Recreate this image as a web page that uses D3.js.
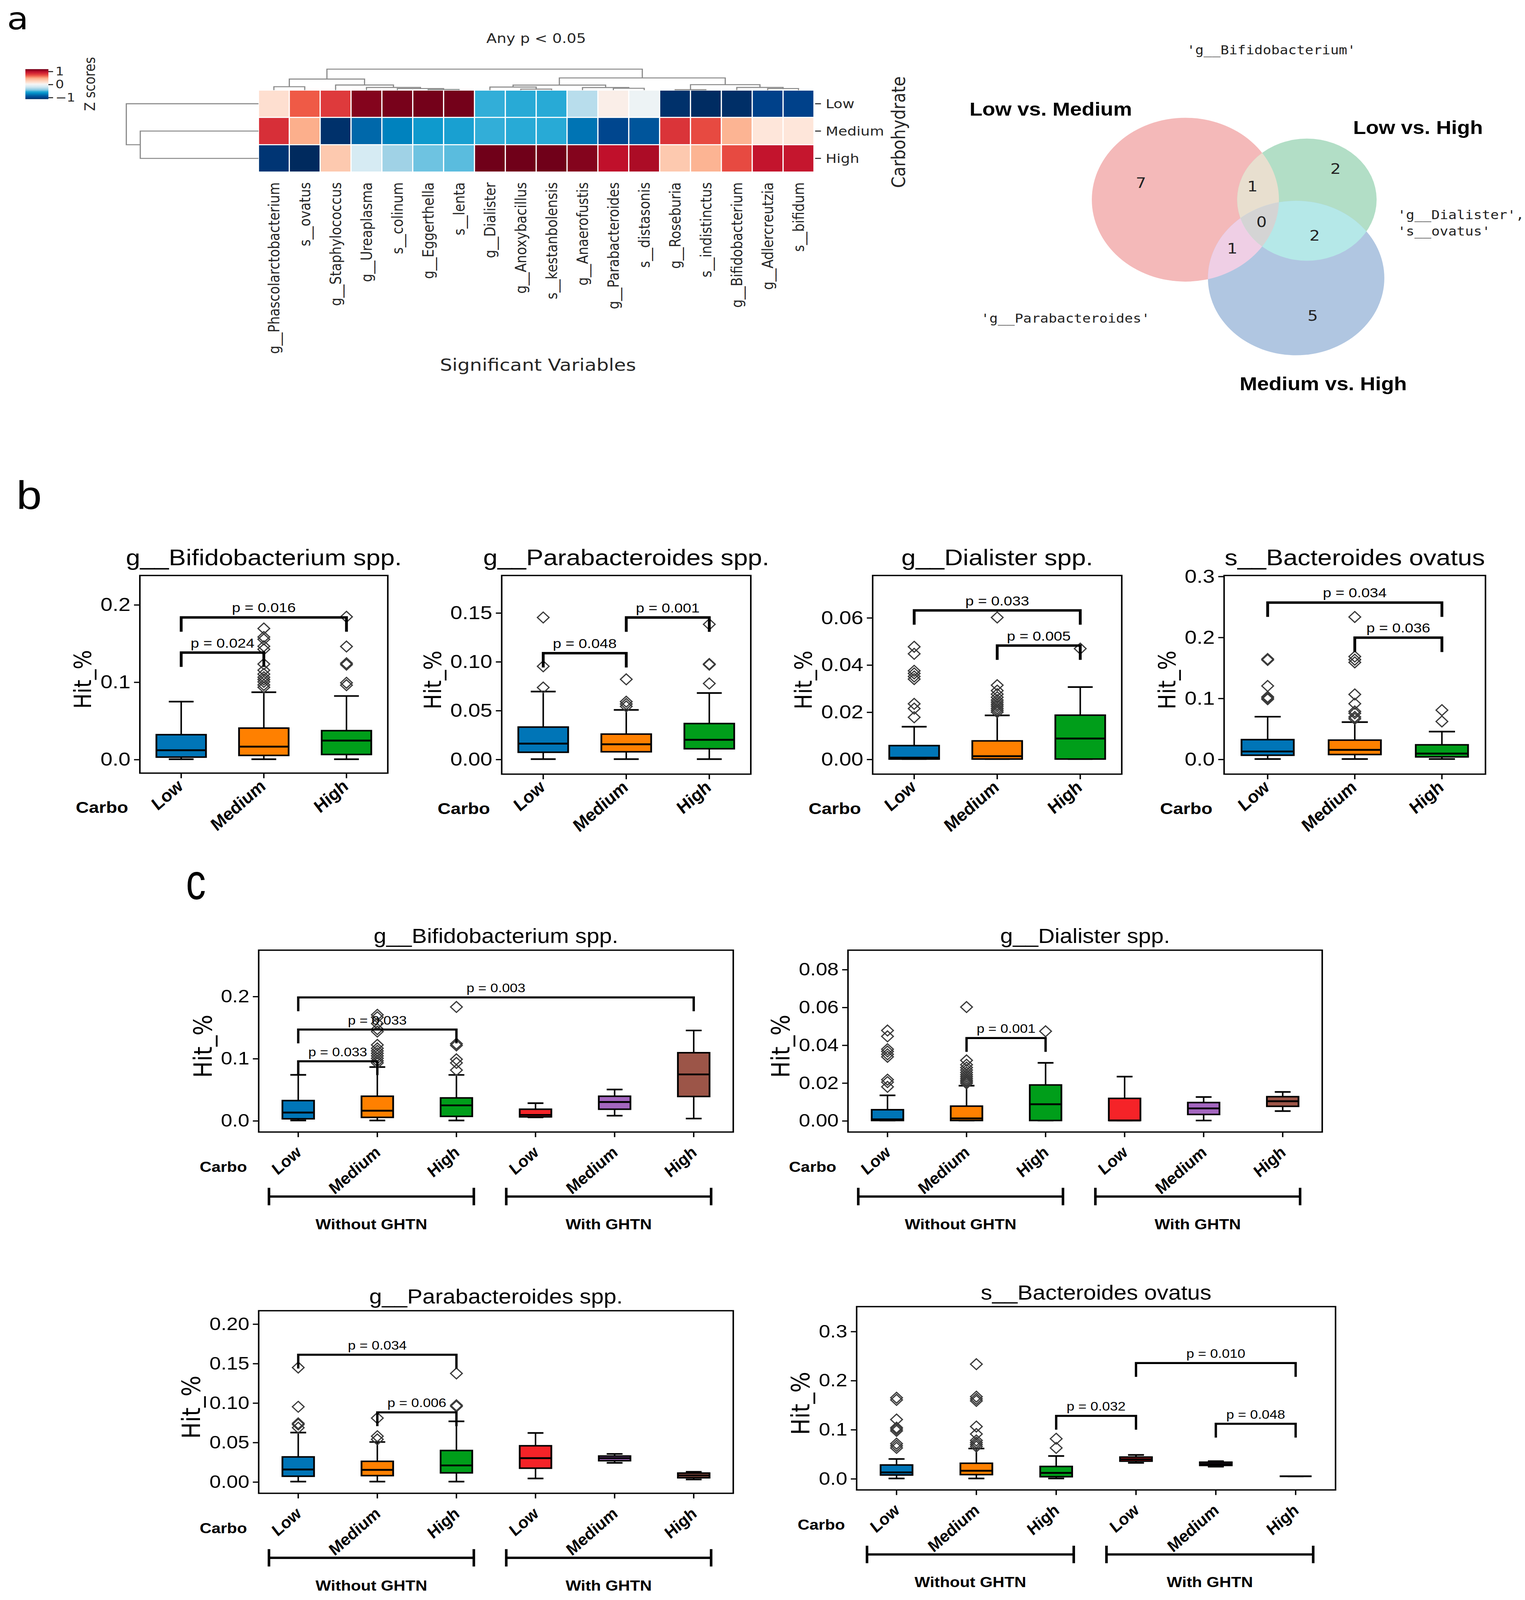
<!DOCTYPE html>
<html>
<head>
<meta charset="utf-8">
<script src="https://cdn.jsdelivr.net/npm/d3@7"></script>
<style>
  html, body { margin: 0; padding: 0; background: #fff; overflow: hidden; }
  svg { display: block; }
</style>
</head>
<body>
<script>
// ---------- panel a : clustered heatmap ----------
const heatTaxa = ["g__Phascolarctobacterium", "s__ovatus", "g__Staphylococcus", "g__Ureaplasma",
  "s__colinum", "g__Eggerthella", "s__lenta", "g__Dialister", "g__Anoxybacillus", "s__kestanbolensis",
  "g__Anaerofustis", "g__Parabacteroides", "s__distasonis", "g__Roseburia", "s__indistinctus",
  "g__Bifidobacterium", "g__Adlercreutzia", "s__bifidum"];
const carbo = ["Low", "Medium", "High"];
const zLow    = [0.15, 0.65, 0.75, 1.10, 1.13, 1.14, 1.14, -0.56, -0.57, -0.57, -0.30, 0.05, -0.05, -1.12, -1.14, -1.13, -1.05, -1.05];
const zMedium = [0.80, 0.45, -1.12, -0.85, -0.75, -0.65, -0.62, -0.56, -0.57, -0.57, -0.80, -1.02, -0.93, 0.78, 0.70, 0.42, 0.10, 0.10];
const zHigh   = [-1.10, -1.15, 0.30, -0.20, -0.38, -0.50, -0.52, 1.15, 1.15, 1.15, 1.10, 0.95, 1.00, 0.30, 0.42, 0.70, 0.93, 0.92];
// scipy style linkage: [childA, childB, height]
const colLinkage = [[0, 1, 3.3], [5, 6, 0.6], [4, 19, 1.5], [3, 20, 2.6], [2, 21, 5.0], [18, 22, 10.8],
  [8, 9, 1.0], [7, 24, 3.0], [11, 12, 1.8], [10, 26, 2.5], [25, 27, 4.9], [13, 14, 0.4],
  [16, 17, 1.5], [15, 30, 2.6], [29, 31, 5.3], [28, 32, 11.9], [23, 33, 20.5]];
const rowLinkage = [[1, 2, 2.2], [0, 3, 2.46]];
const zStops  = [-1.15, -1.05, -0.93, -0.8, -0.7, -0.57, -0.5, -0.38, -0.2, 0, 0.1, 0.25, 0.45, 0.65, 0.75, 0.95, 1.15];
const zColors = ["#002a5e", "#00418a", "#00559b", "#0074b4", "#0090c8", "#28aad6", "#6ec3e1", "#a0d2e6", "#d6ebf3",
  "#f5f5f5", "#fee6da", "#fdd2bb", "#fcaf8c", "#ef5a46", "#de3a3c", "#c0102b", "#700019"];

// ---------- panel a : venn ----------
const vennNames = ["Low vs. Medium", "Low vs. High", "Medium vs. High"];
const vennRegions = ["100", "010", "001", "110", "101", "011", "111"];
const vennCounts = [7, 2, 5, 1, 1, 2, 0];
const vennNotes = ["'g__Bifidobacterium'", "'g__Dialister',", "'s__ovatus'", "'g__Parabacteroides'"];

// ---------- panel b : [min, q1, median, q3, max, outliers] ----------
const bBifido = [
  [0, 0.0027, 0.0116, 0.0317, 0.0744, []],
  [0, 0.0049, 0.0162, 0.0402, 0.0866, [0.093, 0.096, 0.100, 0.103, 0.106, 0.110, 0.115, 0.123, 0.142, 0.146, 0.155, 0.158, 0.169]],
  [0, 0.0061, 0.0241, 0.0369, 0.0817, [0.0957, 0.0988, 0.1222, 0.124, 0.1457, 0.1841]]];
const bBifidoP = [[0, 1, 0.1378, "p = 0.024"], [0, 2, 0.1833, "p = 0.016"]];
const bParab = [
  [0, 0.0070, 0.0159, 0.0328, 0.0692, [0.0733, 0.095, 0.145]],
  [0, 0.0075, 0.0152, 0.0256, 0.0504, [0.054, 0.0564, 0.0588, 0.0817]],
  [0, 0.0106, 0.0198, 0.0364, 0.0677, [0.0774, 0.0967, 0.0974, 0.138]]];
const bParabP = [[0, 1, 0.1085, "p = 0.048"], [1, 2, 0.145, "p = 0.001"]];
const bDial = [
  [0, 0, 0.0006, 0.0057, 0.0137, [0.0177, 0.0214, 0.0234, 0.0339, 0.035, 0.0363, 0.0374, 0.0446, 0.0476]],
  [0, 0, 0.0012, 0.0077, 0.0185, [0.0199, 0.0207, 0.0215, 0.0224, 0.0232, 0.0241, 0.025, 0.0262, 0.0275, 0.029, 0.0313, 0.06]],
  [0, 0, 0.0087, 0.0186, 0.0305, [0.0468]]];
const bDialP = [[0, 2, 0.063, "p = 0.033"], [1, 2, 0.0481, "p = 0.005"]];
const bOvatus = [
  [0, 0.0062, 0.0124, 0.0318, 0.0694, [0.098, 0.100, 0.102, 0.1198, 0.1624, 0.164]],
  [0, 0.0074, 0.0151, 0.0310, 0.0605, [0.066, 0.069, 0.075, 0.078, 0.0907, 0.106, 0.1585, 0.163, 0.168, 0.233]],
  [0, 0.0035, 0.0089, 0.0233, 0.0450, [0.0616, 0.0802]]];
const bOvatusP = [[0, 2, 0.2566, "p = 0.034"], [1, 2, 0.199, "p = 0.036"]];

// ---------- panel c ----------
const carboGhtn = ["Low", "Medium", "High", "Low", "Medium", "High"];
const ghtnGroups = ["Without GHTN", "With GHTN"];
const cBifido = [
  [0, 0.0027, 0.0127, 0.0320, 0.0734, []],
  [0, 0.0050, 0.0158, 0.0390, 0.0860, [0.0926, 0.096, 0.100, 0.104, 0.108, 0.112, 0.116, 0.1216, 0.143, 0.147, 0.156, 0.166, 0.170]],
  [0, 0.0066, 0.0243, 0.0363, 0.0733, [0.081, 0.0926, 0.0984, 0.1208, 0.1235, 0.1826]],
  [0.0050, 0.0058, 0.0089, 0.0181, 0.0278, []],
  [0.0077, 0.0181, 0.0297, 0.0390, 0.0498, []],
  [0.0031, 0.0386, 0.0741, 0.1090, 0.1448, []]];
const cBifidoP = [[0, 1, 0.0953, "p = 0.033"], [0, 2, 0.1463, "p = 0.033"], [0, 5, 0.198, "p = 0.003"]];
const cDial = [
  [0, 0, 0.0006, 0.0057, 0.0133, [0.0178, 0.0203, 0.0216, 0.0337, 0.035, 0.0365, 0.0377, 0.0445, 0.0476]],
  [0, 0, 0.0011, 0.0076, 0.0184, [0.0197, 0.0205, 0.0213, 0.0222, 0.0232, 0.0242, 0.0254, 0.0267, 0.028, 0.0295, 0.0318, 0.06]],
  [0, 0, 0.0086, 0.0188, 0.0305, [0.0472]],
  [0, 0, 0, 0.0117, 0.0232, []],
  [0, 0.0032, 0.0064, 0.0095, 0.0124, []],
  [0.0050, 0.0075, 0.0102, 0.0126, 0.0151, []]];
const cDialP = [[1, 2, 0.0436, "p = 0.001"]];
const cParab = [
  [0, 0.0068, 0.0154, 0.0313, 0.0621, [0.0683, 0.0724, 0.0738, 0.0948, 0.1445]],
  [0, 0.0076, 0.0149, 0.0257, 0.0502, [0.0535, 0.0575, 0.0805]],
  [0, 0.0111, 0.0205, 0.0394, 0.0764, [0.0953, 0.0967, 0.137]],
  [0.0040, 0.0170, 0.0297, 0.0454, 0.0616, []],
  [0.0238, 0.0265, 0.0297, 0.0324, 0.0351, []],
  [0.0027, 0.0049, 0.0078, 0.0108, 0.0124, []]];
const cParabP = [[0, 2, 0.1607, "p = 0.034"], [1, 2, 0.0878, "p = 0.006"]];
const cOvatus = [
  [0, 0.0070, 0.0122, 0.0274, 0.0396, [0.0622, 0.0665, 0.0709, 0.097, 0.1005, 0.1035, 0.12, 0.16, 0.1644]],
  [0, 0.0078, 0.0157, 0.0309, 0.0609, [0.065, 0.069, 0.073, 0.0774, 0.0905, 0.1057, 0.158, 0.162, 0.1666, 0.2327]],
  [0, 0.0035, 0.0113, 0.0244, 0.0457, [0.0622, 0.0809]],
  [0.0318, 0.0352, 0.0392, 0.0435, 0.0479, []],
  [0.0239, 0.0265, 0.0296, 0.0331, 0.0352, []],
  [0.0044, 0.0044, 0.0044, 0.0044, 0.0044, []]];
const cOvatusP = [[2, 3, 0.1275, "p = 0.032"], [3, 5, 0.235, "p = 0.010"], [4, 5, 0.1114, "p = 0.048"]];

const boxColors = ["#0075b7", "#ff8000", "#009e1a", "#f52328", "#a466bf", "#9c5548"];

// ---------- canvas ----------
// the layout is drawn in reference units and stretched onto whatever window we get
const W = 1304, H = 1562.5;
const vw = window.innerWidth || 3904, vh = window.innerHeight || 4678;
const svg = d3.select("body").append("svg")
  .attr("width", vw).attr("height", vh)
  .attr("viewBox", `0 0 ${W} ${H}`)
  .attr("preserveAspectRatio", "none")
  .attr("font-family", "Liberation Sans, Arial, sans-serif");
svg.append("rect").attr("width", W).attr("height", H).attr("fill", "#fff");
const defs = svg.append("defs");

svg.append("text").attr("x", 6).attr("y", 28.5).attr("font-size", 30).attr("font-family", "DejaVu Sans").text("a");
svg.append("text").attr("x", 14).attr("y", 497).attr("font-size", 39).text("b");
svg.append("text").attr("transform", "translate(159,878) scale(1,1.45)").attr("font-size", 34).text("c");

// ---------- heatmap ----------
const zColor = d3.scaleLinear().domain(zStops).range(zColors).clamp(true);
const hx = d3.scaleBand().domain(d3.range(heatTaxa.length)).range([221, 696]);
const hy = d3.scaleBand().domain(carbo).range([88, 168]);
const heat = svg.append("g").attr("font-family", "DejaVu Sans").attr("fill", "#262626");

[zLow, zMedium, zHigh].forEach((row, r) => {
  heat.selectAll(null).data(row).join("rect")
    .attr("x", (d, i) => hx(i)).attr("y", hy(carbo[r]))
    .attr("width", hx.bandwidth()).attr("height", hy.bandwidth())
    .attr("fill", d => zColor(d))
    .attr("stroke", "#fff").attr("stroke-width", 1);
});

// turn a linkage into U-shaped links
function dendroLinks(linkage, leafPos) {
  const pos = leafPos.slice(), hgt = leafPos.map(() => 0), links = [];
  linkage.forEach(([a, b, h]) => {
    links.push({ a: pos[a], ha: hgt[a], b: pos[b], hb: hgt[b], h });
    pos.push((pos[a] + pos[b]) / 2);
    hgt.push(h);
  });
  return links;
}
const colH = d3.scaleLinear().domain([0, d3.max(colLinkage, d => d[2])]).range([88, 67.5]);
const colLinks = dendroLinks(colLinkage, heatTaxa.map((d, i) => hx(i) + hx.bandwidth() / 2));
heat.selectAll(".cden").data(colLinks).join("path")
  .attr("d", l => `M${l.a},${colH(l.ha)}V${colH(l.h)}H${l.b}V${colH(l.hb)}`)
  .attr("fill", "none").attr("stroke", "#8a8a8a").attr("stroke-width", 1);

const rowH = d3.scaleLinear().domain([0, d3.max(rowLinkage, d => d[2])]).range([221, 108]);
const rowLinks = dendroLinks(rowLinkage, carbo.map(c => hy(c) + hy.bandwidth() / 2));
heat.selectAll(".rden").data(rowLinks).join("path")
  .attr("d", l => `M${rowH(l.ha)},${l.a}H${rowH(l.h)}V${l.b}H${rowH(l.hb)}`)
  .attr("fill", "none").attr("stroke", "#8a8a8a").attr("stroke-width", 1);

carbo.forEach(c => {
  const yc = hy(c) + hy.bandwidth() / 2;
  heat.append("line").attr("x1", 697).attr("x2", 702).attr("y1", yc).attr("y2", yc).attr("stroke", "#262626");
  heat.append("text").attr("x", 706).attr("y", yc).attr("dy", "0.35em").attr("font-size", 12.5).text(c);
});
heat.selectAll(".clab").data(heatTaxa).join("text")
  .attr("transform", (d, i) => `translate(${hx(i) + hx.bandwidth() / 2},178) rotate(-90)`)
  .attr("dy", "0.35em").attr("text-anchor", "end").attr("font-size", 12.8)
  .text(d => d);
heat.append("text").attr("x", 458.5).attr("y", 42).attr("text-anchor", "middle").attr("font-size", 13).text("Any p < 0.05");
heat.append("text").attr("x", 460).attr("y", 362).attr("text-anchor", "middle").attr("font-size", 16.5).text("Significant Variables");
heat.append("text").attr("transform", "translate(774,129) rotate(-90)").attr("text-anchor", "middle")
  .attr("font-size", 15.9).text("Carbohydrate");

// colour bar
const grad = defs.append("linearGradient").attr("id", "zgrad")
  .attr("x1", 0).attr("x2", 0).attr("y1", 1).attr("y2", 0);
d3.range(0, 1.0001, 0.05).forEach(t =>
  grad.append("stop").attr("offset", t).attr("stop-color", zColor(-1.15 + 2.3 * t)));
const cb = d3.scaleLinear().domain([-1.15, 1.15]).range([96.8, 67.5]);
svg.append("rect").attr("x", 21.7).attr("y", 67.5).attr("width", 19.7).attr("height", 29.3).attr("fill", "url(#zgrad)");
const cbAxis = svg.append("g").attr("transform", "translate(41.4,0)")
  .call(d3.axisRight(cb).tickValues([-1, 0, 1]).tickFormat(d3.format("d")).tickSize(4).tickPadding(2));
cbAxis.select(".domain").remove();
cbAxis.attr("font-family", "DejaVu Sans").attr("font-size", 11.5);
cbAxis.selectAll("line").attr("stroke", "#262626");
cbAxis.selectAll("text").attr("fill", "#262626");
svg.append("text").attr("transform", "translate(81,82) rotate(-90)").attr("text-anchor", "middle")
  .attr("font-family", "DejaVu Sans").attr("font-size", 12.5).attr("fill", "#262626").text("Z scores");

// ---------- venn ----------
const vennCenters = [[1013.6, 195], [1117.5, 195], [1108.3, 271.5]];
const vennCountPos = [[975.6, 178.7], [1142, 165], [1122.5, 308.2], [1071, 182], [1053.7, 242.6], [1124.2, 230], [1078.7, 216.8]];
const vennFill = { "100": "#f4b9b9", "010": "#b2dec6", "001": "#b0c6e1", "110": "#e8dfcf",
  "101": "#efcfe5", "011": "#b5e8e8", "111": "#d4d4d4" };
const setSize = [0, 1, 2].map(k => d3.sum(vennRegions, (r, j) => r[k] === "1" ? vennCounts[j] : 0));
const vr = d3.scaleSqrt().domain([0, d3.max(setSize)]).range([0, 80]);
[0, 1, 2].forEach(k => defs.append("clipPath").attr("id", `vclip${k}`).append("circle")
  .attr("cx", vennCenters[k][0]).attr("cy", vennCenters[k][1]).attr("r", vr(setSize[k])));
const venn = svg.append("g");
const circ = (sel, k, key) => sel.append("circle")
  .attr("cx", vennCenters[k][0]).attr("cy", vennCenters[k][1]).attr("r", vr(setSize[k]))
  .attr("fill", vennFill[key]);
circ(venn, 0, "100");
circ(venn, 1, "010");
circ(venn, 2, "001");
circ(venn.append("g").attr("clip-path", "url(#vclip0)"), 1, "110");
circ(venn.append("g").attr("clip-path", "url(#vclip0)"), 2, "101");
circ(venn.append("g").attr("clip-path", "url(#vclip1)"), 2, "011");
circ(venn.append("g").attr("clip-path", "url(#vclip0)").append("g").attr("clip-path", "url(#vclip1)"), 2, "111");
venn.selectAll(".cnt").data(vennCounts).join("text")
  .attr("x", (d, i) => vennCountPos[i][0]).attr("y", (d, i) => vennCountPos[i][1])
  .attr("dy", "0.35em").attr("text-anchor", "middle")
  .attr("font-family", "DejaVu Sans").attr("font-size", 14).attr("fill", "#222")
  .text(d => d);
const vennLabelPos = [[829, 113], [1157, 131], [1060, 381]];
venn.selectAll(".vname").data(vennNames).join("text")
  .attr("x", (d, i) => vennLabelPos[i][0]).attr("y", (d, i) => vennLabelPos[i][1])
  .attr("font-weight", "bold").attr("font-size", 18).text(d => d);
const notePos = [[1087, 53, "middle"], [1195, 214, "start"], [1195, 230, "start"], [911, 315, "middle"]];
venn.selectAll(".note").data(vennNotes).join("text")
  .attr("x", (d, i) => notePos[i][0]).attr("y", (d, i) => notePos[i][1])
  .attr("text-anchor", (d, i) => notePos[i][2])
  .attr("font-family", "DejaVu Sans Mono").attr("font-size", 12).attr("fill", "#222")
  .text(d => d);

// ---------- box plots ----------
const diamond = {
  draw(ctx, size) {
    const r = Math.sqrt(size) / 2;
    ctx.moveTo(0, -r * 1.06); ctx.lineTo(r, 0); ctx.lineTo(0, r * 1.06); ctx.lineTo(-r, 0); ctx.closePath();
  }
};
const outlierPath = d3.symbol().type(diamond).size(100)();

function boxPanel(p, st) {
  const g = svg.append("g");
  const x = d3.scaleBand().domain(d3.range(p.cats.length)).range([p.x, p.x + p.w]);
  const y = d3.scaleLinear().domain(p.dom).range([p.y + p.h, p.y]);
  const cx = i => x(i) + x.bandwidth() / 2;
  const bw = x.bandwidth() * st.boxFrac;
  const bottom = p.y + p.h;

  // y axis
  const ya = g.append("g").attr("transform", `translate(${p.x},0)`)
    .call(d3.axisLeft(y).tickValues(p.ticks).tickFormat(d3.format(p.fmt)).tickSize(5).tickPadding(3));
  ya.select(".domain").remove();
  ya.attr("font-family", "Liberation Sans, Arial, sans-serif").attr("font-size", st.tick);
  ya.selectAll("line").attr("stroke", "#000").attr("stroke-width", 1.2);
  ya.selectAll("text").attr("fill", "#000");

  // x axis
  const xa = g.append("g").attr("transform", `translate(0,${bottom})`)
    .call(d3.axisBottom(x).tickFormat(i => p.cats[i]).tickSize(5));
  xa.select(".domain").remove();
  xa.attr("font-family", "Liberation Sans, Arial, sans-serif").attr("font-size", st.lab);
  xa.selectAll("line").attr("stroke", "#000").attr("stroke-width", 1.2);
  xa.selectAll("text").attr("fill", "#000").attr("y", 0).attr("dy", 0)
    .attr("text-anchor", "end").attr("font-weight", "bold").attr("font-style", "italic")
    .attr("transform", `translate(${st.lx},${st.ly}) rotate(-45)`);

  // frame
  g.append("rect").attr("x", p.x).attr("y", p.y).attr("width", p.w).attr("height", p.h)
    .attr("fill", "none").attr("stroke", "#000").attr("stroke-width", 1.3);

  // boxes
  const box = g.selectAll(".box").data(p.stats).join("g");
  box.append("line").attr("x1", (d, i) => cx(i)).attr("x2", (d, i) => cx(i))
    .attr("y1", d => y(d[4])).attr("y2", d => y(d[3])).attr("stroke", "#000").attr("stroke-width", 1.3);
  box.append("line").attr("x1", (d, i) => cx(i)).attr("x2", (d, i) => cx(i))
    .attr("y1", d => y(d[1])).attr("y2", d => y(d[0])).attr("stroke", "#000").attr("stroke-width", 1.3);
  [0, 4].forEach(k => box.append("line")
    .attr("x1", (d, i) => cx(i) - bw / 4).attr("x2", (d, i) => cx(i) + bw / 4)
    .attr("y1", d => y(d[k])).attr("y2", d => y(d[k])).attr("stroke", "#000").attr("stroke-width", 1.6));
  box.append("rect").attr("x", (d, i) => cx(i) - bw / 2).attr("width", bw)
    .attr("y", d => y(d[3])).attr("height", d => y(d[1]) - y(d[3]))
    .attr("fill", (d, i) => boxColors[i]).attr("stroke", "#000").attr("stroke-width", 1.5);
  box.append("line").attr("x1", (d, i) => cx(i) - bw / 2).attr("x2", (d, i) => cx(i) + bw / 2)
    .attr("y1", d => y(d[2])).attr("y2", d => y(d[2])).attr("stroke", "#000").attr("stroke-width", 1.8);
  box.each(function (d, i) {
    d3.select(this).selectAll("path").data(d[5]).join("path")
      .attr("d", outlierPath)
      .attr("transform", o => `translate(${cx(i)},${y(o)})`)
      .attr("fill", "none").attr("stroke", "#3a3a3a").attr("stroke-width", 1.1);
  });

  // significance brackets
  const br = g.selectAll(".br").data(p.p).join("g");
  br.append("path")
    .attr("d", d => `M${cx(d[0])},${y(d[2]) + st.leg}V${y(d[2])}H${cx(d[1])}V${y(d[2]) + st.leg}`)
    .attr("fill", "none").attr("stroke", "#000").attr("stroke-width", st.brW);
  br.append("text").attr("x", d => (cx(d[0]) + cx(d[1])) / 2).attr("y", d => y(d[2]) - 5)
    .attr("text-anchor", "middle").attr("font-size", st.pv).text(d => d[3]);

  // labels
  g.append("text").attr("x", p.x + p.w / 2).attr("y", p.y - st.tGap)
    .attr("text-anchor", "middle").attr("font-size", st.title).text(p.title);
  const bb = ya.node().getBBox();
  g.append("text").attr("transform", `translate(${p.x + bb.x - 8},${p.y + p.h / 2 + 5}) rotate(-90)`)
    .attr("text-anchor", "middle").attr("font-family", "DejaVu Sans").attr("font-size", st.ylab).text("Hit_%");
  g.append("text").attr("x", p.x - 10).attr("y", bottom + 39).attr("text-anchor", "end")
    .attr("font-weight", "bold").attr("font-size", st.carbo).text("Carbo");

  // Without / With GHTN group bars
  if (p.groups) {
    const step = x.step(), ly = bottom + 63;
    p.groups.forEach((name, k) => {
      const x1 = cx(3 * k) - 0.37 * step, x2 = cx(3 * k + 2) + 0.22 * step;
      g.append("path").attr("d", `M${x1},${ly - 8.5}V${ly + 8.5}M${x1},${ly}H${x2}M${x2},${ly - 8.5}V${ly + 8.5}`)
        .attr("fill", "none").attr("stroke", "#000").attr("stroke-width", 2.2);
      g.append("text").attr("x", (x1 + x2) / 2).attr("y", ly + 32).attr("text-anchor", "middle")
        .attr("font-weight", "bold").attr("font-size", 14).text(name);
    });
  }
}

const bStyle = { boxFrac: 0.6, tick: 18.5, title: 22, lab: 16, ylab: 20, pv: 13, carbo: 15.5, lx: 3, ly: 14, leg: 14, brW: 2.4, tGap: 10 };
const cStyle = { boxFrac: 0.4, tick: 17.5, title: 19.5, lab: 15, ylab: 21.5, pv: 12, carbo: 14, lx: 4, ly: 21, leg: 13.5, brW: 2, tGap: 7 };

[
  { stats: bBifido, p: bBifidoP, cats: carbo, title: "g__Bifidobacterium spp.", x: 119.6, y: 562, w: 212, h: 193, dom: [-0.018, 0.2375], ticks: [0, 0.1, 0.2], fmt: ".1f" },
  { stats: bParab, p: bParabP, cats: carbo, title: "g__Parabacteroides spp.", x: 429, y: 562, w: 213, h: 194, dom: [-0.0154, 0.188], ticks: [0, 0.05, 0.1, 0.15], fmt: ".2f" },
  { stats: bDial, p: bDialP, cats: carbo, title: "g__Dialister spp.", x: 746.2, y: 562, w: 213, h: 194, dom: [-0.0064, 0.0778], ticks: [0, 0.02, 0.04, 0.06], fmt: ".2f" },
  { stats: bOvatus, p: bOvatusP, cats: carbo, title: "s__Bacteroides ovatus", x: 1046.7, y: 562, w: 223.5, h: 194, dom: [-0.0248, 0.301], ticks: [0, 0.1, 0.2, 0.3], fmt: ".1f" }
].forEach(p => boxPanel(p, bStyle));

[
  { stats: cBifido, p: cBifidoP, cats: carboGhtn, groups: ghtnGroups, title: "g__Bifidobacterium spp.", x: 221.2, y: 927.9, w: 405.8, h: 177.6, dom: [-0.0186, 0.274], ticks: [0, 0.1, 0.2], fmt: ".1f" },
  { stats: cDial, p: cDialP, cats: carboGhtn, groups: ghtnGroups, title: "g__Dialister spp.", x: 725.1, y: 927.9, w: 405.5, h: 177.6, dom: [-0.0061, 0.0901], ticks: [0, 0.02, 0.04, 0.06, 0.08], fmt: ".2f" },
  { stats: cParab, p: cParabP, cats: carboGhtn, groups: ghtnGroups, title: "g__Parabacteroides spp.", x: 221.2, y: 1280, w: 405.8, h: 178.3, dom: [-0.0148, 0.2165], ticks: [0, 0.05, 0.1, 0.15, 0.2], fmt: ".2f" },
  { stats: cOvatus, p: cOvatusP, cats: carboGhtn, groups: ghtnGroups, title: "s__Bacteroides ovatus", x: 732.5, y: 1276, w: 409.5, h: 179, dom: [-0.0234, 0.35], ticks: [0, 0.1, 0.2, 0.3], fmt: ".1f" }
].forEach(p => boxPanel(p, cStyle));
</script>
</body>
</html>
